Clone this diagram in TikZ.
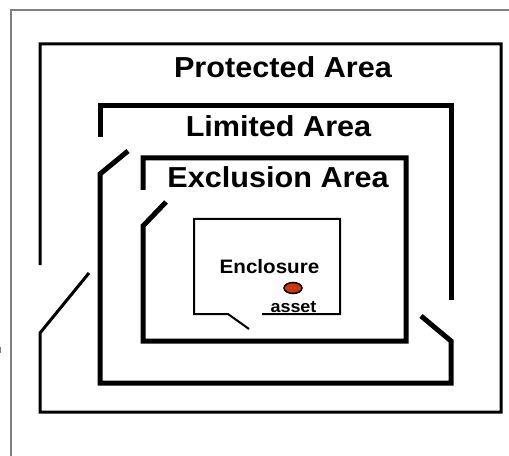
\documentclass[tikz,border=0pt]{standalone}
\usepackage{fontspec}
\setmainfont{Liberation Sans}
\definecolor{assetred}{HTML}{C8360A}
\tikzset{
  wall/.style={line width=#1},
  wall/.default=5bp,
  areatext/.style={font=\bfseries\fontsize{29}{31}\selectfont, xscale=1.06, inner sep=0pt, anchor=base},
  smalltext/.style={font=\bfseries\fontsize{#1}{#1}\selectfont, xscale=1.06, inner sep=0pt, anchor=base},
}
\begin{document}
\begin{tikzpicture}[x=1bp, y=-1bp]
    \useasboundingbox (0,0) rectangle (509,456);
    \draw[gray, line width=1.5bp] (11,456) -- (11,10) -- (509,10);
    \draw[gray, line width=1bp] (0.5,347) -- (0.5,353);

    % protected area
    \draw[wall=3bp] (40,265) -- (40,44) -- (501,44) -- (501,412) -- (40,412) -- (40,333) -- (89,273);
    \node[areatext] (protected) at (283,78) {Protected Area};

    % limited area
    \draw[wall] (100,137) -- (100,106) -- (451,106) -- (451,300);
    \draw[wall] (128,151) -- (100,174) -- (100,383) -- (451,383) -- (451,341) -- (421,316);
    \node[areatext] (limited) at (278.5,137) {Limited Area};

    % exclusion area
    \draw[wall] (143,190) -- (143,158) -- (406,158) -- (406,341) -- (143,341) -- (143,226) -- (166,202);
    \node[areatext] (exclusion) at (278,188) {Exclusion Area};

    % enclosure with the asset
    \draw[wall=2bp] (249,329) -- (228,314) -- (194,314) -- (194,219) -- (340,219) -- (340,314) -- (262,314);
    \node[smalltext=19.5] (enclosure) at (269.5,273) {Enclosure};
    \draw[line width=1.5bp, fill=assetred] (293,288) ellipse (9bp and 5.5bp);
    \node[smalltext=17] (asset) at (293.5,312) {asset};
\end{tikzpicture}
\end{document}
